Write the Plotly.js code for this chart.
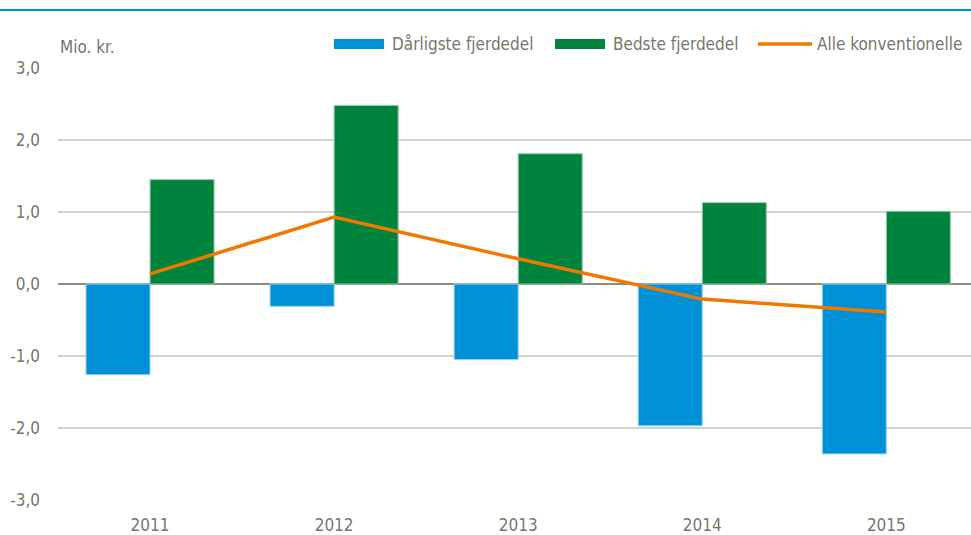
<!DOCTYPE html>
<html>
<head>
<meta charset="utf-8">
<script src="https://cdn.plot.ly/plotly-3.0.1.min.js"></script>
<style>
html,body{margin:0;padding:0;background:#fff;}
#chart{width:971px;height:535px;}
</style>
</head>
<body>
<div id="chart"></div>
<script>
// Data
var years = ["2011", "2012", "2013", "2014", "2015"];
var worstQuarter = [-1.26, -0.31, -1.05, -1.97, -2.36];
var bestQuarter = [1.45, 2.48, 1.81, 1.13, 1.01];
var allConventional = [0.14, 0.93, 0.35, -0.21, -0.39];
var seriesNames = ["Dårligste fjerdedel", "Bedste fjerdedel", "Alle konventionelle"];
var yTicks = [-3, -2, -1, 0, 1, 2, 3];
var yTickLabels = ["-3,0", "-2,0", "-1,0", "0,0", "1,0", "2,0", "3,0"];
var yUnit = "Mio. kr.";

var BLUE = "#0090D5", GREEN = "#00843D", ORANGE = "#F07800";
var TXT = "#77766b";
var FONT = "Liberation Sans Narrow, DejaVu Sans Condensed, Arial Narrow, sans-serif";
var FS = 17;

var W = 971, H = 535, L = 58, R = 0, T = 68, B = 35;
var pw = W - L - R, ph = H - T - B;
function px(x) { return (x - L) / pw; }
function py(y) { return (H - B - y) / ph; }

var traces = [
  {type: "bar", x: years, y: worstQuarter, name: seriesNames[0],
   marker: {color: BLUE, line: {color: "#9fd3ef", width: 1}}, showlegend: false, hoverinfo: "y"},
  {type: "bar", x: years, y: bestQuarter, name: seriesNames[1],
   marker: {color: GREEN, line: {color: "#9cc9ad", width: 1}}, showlegend: false, hoverinfo: "y"},
  {type: "scatter", mode: "lines", x: years, y: allConventional, name: seriesNames[2],
   line: {color: ORANGE, width: 3.5}, showlegend: false, hoverinfo: "y"}
];

// custom legend
var legendItems = [
  {kind: "rect", color: BLUE, x0: 334, x1: 384, tx: 390, label: seriesNames[0]},
  {kind: "rect", color: GREEN, x0: 555, x1: 605, tx: 611, label: seriesNames[1]},
  {kind: "line", color: ORANGE, x0: 758, x1: 812, tx: 815, label: seriesNames[2]}
];
var shapes = [
  {type: "line", xref: "paper", yref: "paper", x0: px(0), x1: px(W), y0: py(10), y1: py(10),
   line: {color: BLUE, width: 2}}
];
var annotations = [
  {xref: "paper", yref: "paper", x: px(58), y: py(47), xanchor: "left", yanchor: "middle",
   text: yUnit, showarrow: false, font: {family: FONT, size: FS, color: TXT}}
];
legendItems.forEach(function (it) {
  if (it.kind === "rect") {
    shapes.push({type: "rect", xref: "paper", yref: "paper", x0: px(it.x0), x1: px(it.x1),
      y0: py(49), y1: py(39), fillcolor: it.color, line: {width: 0}});
  } else {
    shapes.push({type: "line", xref: "paper", yref: "paper", x0: px(it.x0), x1: px(it.x1),
      y0: py(44), y1: py(44), line: {color: it.color, width: 3.5}});
  }
  annotations.push({xref: "paper", yref: "paper", x: px(it.tx), y: py(44), xanchor: "left",
    yanchor: "middle", text: it.label, showarrow: false, font: {family: FONT, size: FS, color: TXT}});
});

var layout = {
  width: W, height: H,
  margin: {l: L, r: R, t: T, b: B, pad: 0},
  paper_bgcolor: "#fff", plot_bgcolor: "#fff",
  font: {family: FONT, size: FS, color: TXT},
  barmode: "group", bargap: 0.304, bargroupgap: 0,
  showlegend: false,
  xaxis: {type: "category", range: [-0.5, 4.46], showgrid: false, zeroline: false,
    showline: false, ticks: "", tickfont: {family: FONT, size: FS, color: TXT},
    ticklabelstandoff: 13, fixedrange: true},
  yaxis: {range: [-3, 3], tickvals: yTicks, ticktext: yTickLabels, showgrid: true,
    gridcolor: "#d4d3c9", gridwidth: 1.5, zeroline: true, zerolinecolor: "#8c8b80",
    zerolinewidth: 2, showline: false, ticks: "", ticklabelstandoff: 17,
    tickfont: {family: FONT, size: FS, color: TXT}, fixedrange: true},
  shapes: shapes,
  annotations: annotations
};

Plotly.newPlot("chart", traces, layout, {displayModeBar: false, staticPlot: true});
</script>
</body>
</html>
